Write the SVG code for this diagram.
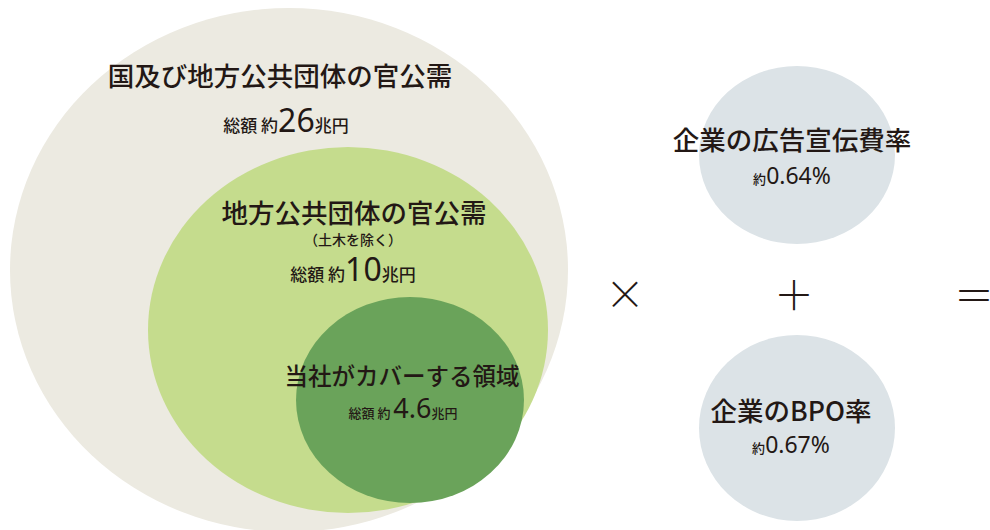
<svg xmlns="http://www.w3.org/2000/svg" width="990" height="530" viewBox="0 0 990 530">
<style>
text{font-family:"Noto Sans CJK JP","Noto Sans",sans-serif;fill:#231815;text-anchor:middle;font-weight:500}
.t{font-size:26.5px}
.s{font-size:17px}
.b{font-size:32px;font-family:"Noto Sans","Noto Sans CJK JP",sans-serif;font-weight:400}
.p{font-size:23px;font-family:"Noto Sans",sans-serif;font-weight:400}
.op{font-size:40px;font-weight:300}
</style>
<rect width="990" height="530" fill="#ffffff"/>
<g id="national">
<ellipse cx="289" cy="270" rx="279" ry="262" fill="#ECEAE1"/>
<text class="t" x="280" y="86">国及び地方公共団体の官公需</text>
<text x="286" y="132"><tspan class="s">総額 約</tspan><tspan class="b">26</tspan><tspan class="s">兆円</tspan></text>
</g>
<g id="local">
<ellipse cx="348" cy="330" rx="200" ry="183" fill="#C5DC8D"/>
<text class="t" x="354" y="223">地方公共団体の官公需</text>
<text x="353" y="245" style="font-size:14px">（土木を除く）</text>
<text x="353" y="281"><tspan class="s">総額 約</tspan><tspan class="b">10</tspan><tspan class="s">兆円</tspan></text>
</g>
<g id="company">
<ellipse cx="410" cy="400" rx="114" ry="103" fill="#6AA35A"/>
<text x="402" y="385" style="font-size:23.5px">当社がカバーする領域</text>
<text x="403" y="418"><tspan style="font-size:13px">総額 約 </tspan><tspan class="b" style="font-size:27px">4.6</tspan><tspan style="font-size:13px">兆円</tspan></text>
</g>
<g id="ad">
<ellipse cx="797" cy="155" rx="98" ry="89" fill="#DCE3E7"/>
<text class="t" x="792" y="150">企業の広告宣伝費率</text>
<text x="792" y="184"><tspan style="font-size:13px">約</tspan><tspan class="p">0.64%</tspan></text>
</g>
<g id="bpo">
<ellipse cx="797" cy="428" rx="98" ry="93" fill="#DCE3E7"/>
<text class="t" x="791" y="421">企業のBPO率</text>
<text x="791" y="453"><tspan style="font-size:13px">約</tspan><tspan class="p">0.67%</tspan></text>
</g>
<g id="connectors">
<text class="op" x="625" y="309">×</text>
<text class="op" x="794" y="310">＋</text>
<text class="op" x="974" y="310">＝</text>
</g>
</svg>
